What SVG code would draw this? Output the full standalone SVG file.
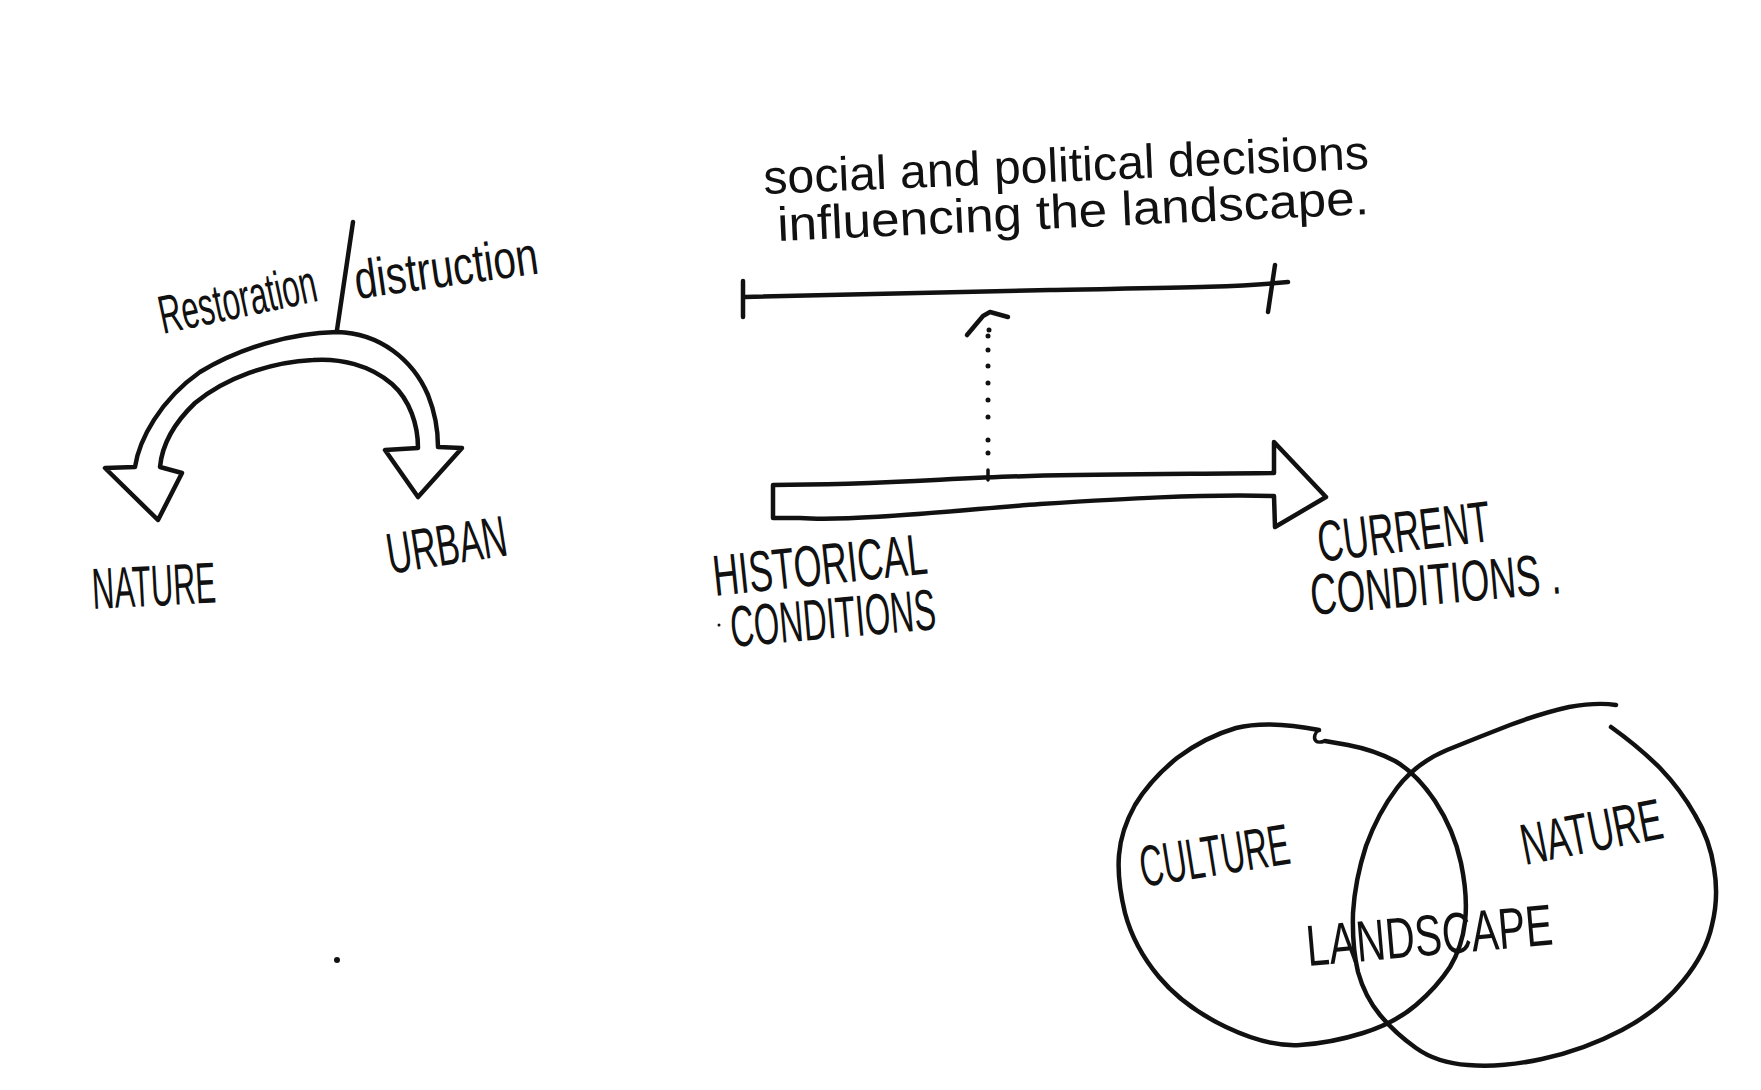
<svg xmlns="http://www.w3.org/2000/svg" width="1761" height="1090" viewBox="0 0 1761 1090">
<style>
.ink{fill:none;stroke:#111;stroke-width:4.5;stroke-linecap:round;stroke-linejoin:round}
.thin{fill:none;stroke:#111;stroke-width:3.5;stroke-linecap:round;stroke-linejoin:round}
.dot{fill:#111}
.t{font-family:"Liberation Sans","DejaVu Sans",sans-serif;fill:#111}
.cap{font-size:58px}
.low{font-size:48px}
.big{font-size:54px}
</style>
<rect width="1761" height="1090" fill="#ffffff"/>

<g id="restoration-label">
  <text class="t big" x="163" y="334" transform="rotate(-12 163 334)" textLength="160" lengthAdjust="spacingAndGlyphs">Restoration</text>
  <line class="ink" x1="353" y1="222" x2="337" y2="330"/>
  <text class="t big" x="357" y="299" transform="rotate(-8 357 299)" textLength="185" lengthAdjust="spacingAndGlyphs">distruction</text>
</g>

<g id="nature-left">
  <text class="t cap" x="93" y="609" transform="rotate(-3 93 609)" textLength="124" lengthAdjust="spacingAndGlyphs">NATURE</text>
</g>

<g id="urban">
  <text class="t cap" x="390" y="574" transform="rotate(-9 390 574)" textLength="121" lengthAdjust="spacingAndGlyphs">URBAN</text>
</g>

<g id="social-label">
  <text class="t low" x="764" y="194" transform="rotate(-2.4 764 194)" textLength="606" lengthAdjust="spacingAndGlyphs">social and political decisions</text>
  <text class="t low" x="778" y="241" transform="rotate(-2.6 778 241)" textLength="592" lengthAdjust="spacingAndGlyphs">influencing the landscape.</text>
</g>

<g id="timeline">
  <path class="ink" d="M745,297 C850,294 950,292 1050,290 S1230,288 1288,282"/>
  <line class="ink" x1="743" y1="281" x2="743" y2="317"/>
  <line class="ink" x1="1275" y1="265" x2="1268" y2="312"/>
</g>

<g id="historical">
  <text class="t cap" x="715" y="596" transform="rotate(-6 715 596)" textLength="215" lengthAdjust="spacingAndGlyphs">HISTORICAL</text>
  <text class="t cap" x="732" y="647" transform="rotate(-5 732 647)" textLength="206" lengthAdjust="spacingAndGlyphs">CONDITIONS</text>
</g>

<g id="current">
  <text class="t cap" x="1320" y="562" transform="rotate(-7 1320 562)" textLength="174" lengthAdjust="spacingAndGlyphs">CURRENT</text>
  <text class="t cap" x="1312" y="615" transform="rotate(-5 1312 615)" textLength="251" lengthAdjust="spacingAndGlyphs">CONDITIONS .</text>
</g>

<g id="venn-culture">
  <path class="ink" d="M1319,730 Q1268,720 1236,728 Q1205,737 1177,758 Q1150,780 1135,805 Q1121,830 1119,855 Q1117,880 1125,913 Q1134,947 1159,977 Q1184,1007 1226,1027 Q1268,1047 1300,1045 Q1331,1043 1363,1033 Q1395,1023 1416,1005 Q1437,987 1450,967 Q1462,947 1465,922 Q1468,897 1461,863 Q1454,830 1435,801 Q1416,773 1395,761 Q1374,750 1348,745 L1325,741"/>
  <path class="thin" d="M1319,730 C1315,732 1313,738 1316,741 C1318,743 1322,742 1325,741"/>
  <text class="t cap" x="1143" y="887" transform="rotate(-9 1143 887)" textLength="151" lengthAdjust="spacingAndGlyphs">CULTURE</text>
</g>

<g id="venn-nature">
  <path class="ink" d="M1611,727 Q1639,747 1660,768 Q1681,790 1695,815 Q1710,840 1714,868 Q1719,897 1712,925 Q1706,953 1683,981 Q1660,1010 1622,1030 Q1584,1050 1542,1059 Q1500,1068 1468,1065 Q1437,1063 1416,1048 Q1395,1033 1380,1015 Q1365,997 1358,972 Q1352,947 1353,913 Q1355,880 1366,846 Q1378,813 1397,788 Q1416,763 1447,750 Q1479,737 1510,725 Q1542,713 1569,707 Q1597,702 1616,705"/>
  <text class="t cap" x="1525" y="865" transform="rotate(-11 1525 865)" textLength="143" lengthAdjust="spacingAndGlyphs">NATURE</text>
</g>

<g id="venn-landscape">
  <text class="t cap" x="1308" y="966" transform="rotate(-5 1308 966)" textLength="247" lengthAdjust="spacingAndGlyphs">LANDSCAPE</text>
</g>

<g id="connectors">
  <path id="curved-arrow" class="ink" d="M135,467 C139,440 160,400 200,372 C240,348 290,333 337,332 C380,333 413,360 428,395 C436,415 438,432 438,447 L462,448 L418,497 L385,450 L418,448 C418,425 410,400 392,384 C370,365 340,358 313,360 C270,362 225,378 195,403 C172,425 162,445 160,467 L182,473 L158,520 L105,468 Z"/>
  <path id="time-arrow" class="ink" d="M773,485 C880,485 950,478 1030,476 S1200,474 1274,473 L1274,442 L1326,497 L1275,527 L1274,496 C1200,494 1120,499 1040,504 C960,510 850,522 800,518 L773,518 Z"/>
  <g id="dotted-arrow">
    <line class="thin" x1="988" y1="470" x2="988" y2="480"/>
    <circle class="dot" cx="988" cy="453" r="2.5"/>
    <circle class="dot" cx="988" cy="440" r="2.5"/>
    <circle class="dot" cx="988" cy="417" r="2.5"/>
    <circle class="dot" cx="988" cy="400" r="2.5"/>
    <circle class="dot" cx="988" cy="383" r="2.5"/>
    <circle class="dot" cx="988" cy="366" r="2.5"/>
    <circle class="dot" cx="988" cy="350" r="2.5"/>
    <circle class="dot" cx="988" cy="336" r="2.5"/>
    <circle class="dot" cx="989" cy="330" r="2.5"/>
    <path class="ink" d="M967,335 L983,316 L990,312 L1008,317"/>
  </g>
</g>

<circle class="dot" cx="337" cy="960" r="3"/>
<circle class="dot" cx="719" cy="625" r="1.5"/>
</svg>
